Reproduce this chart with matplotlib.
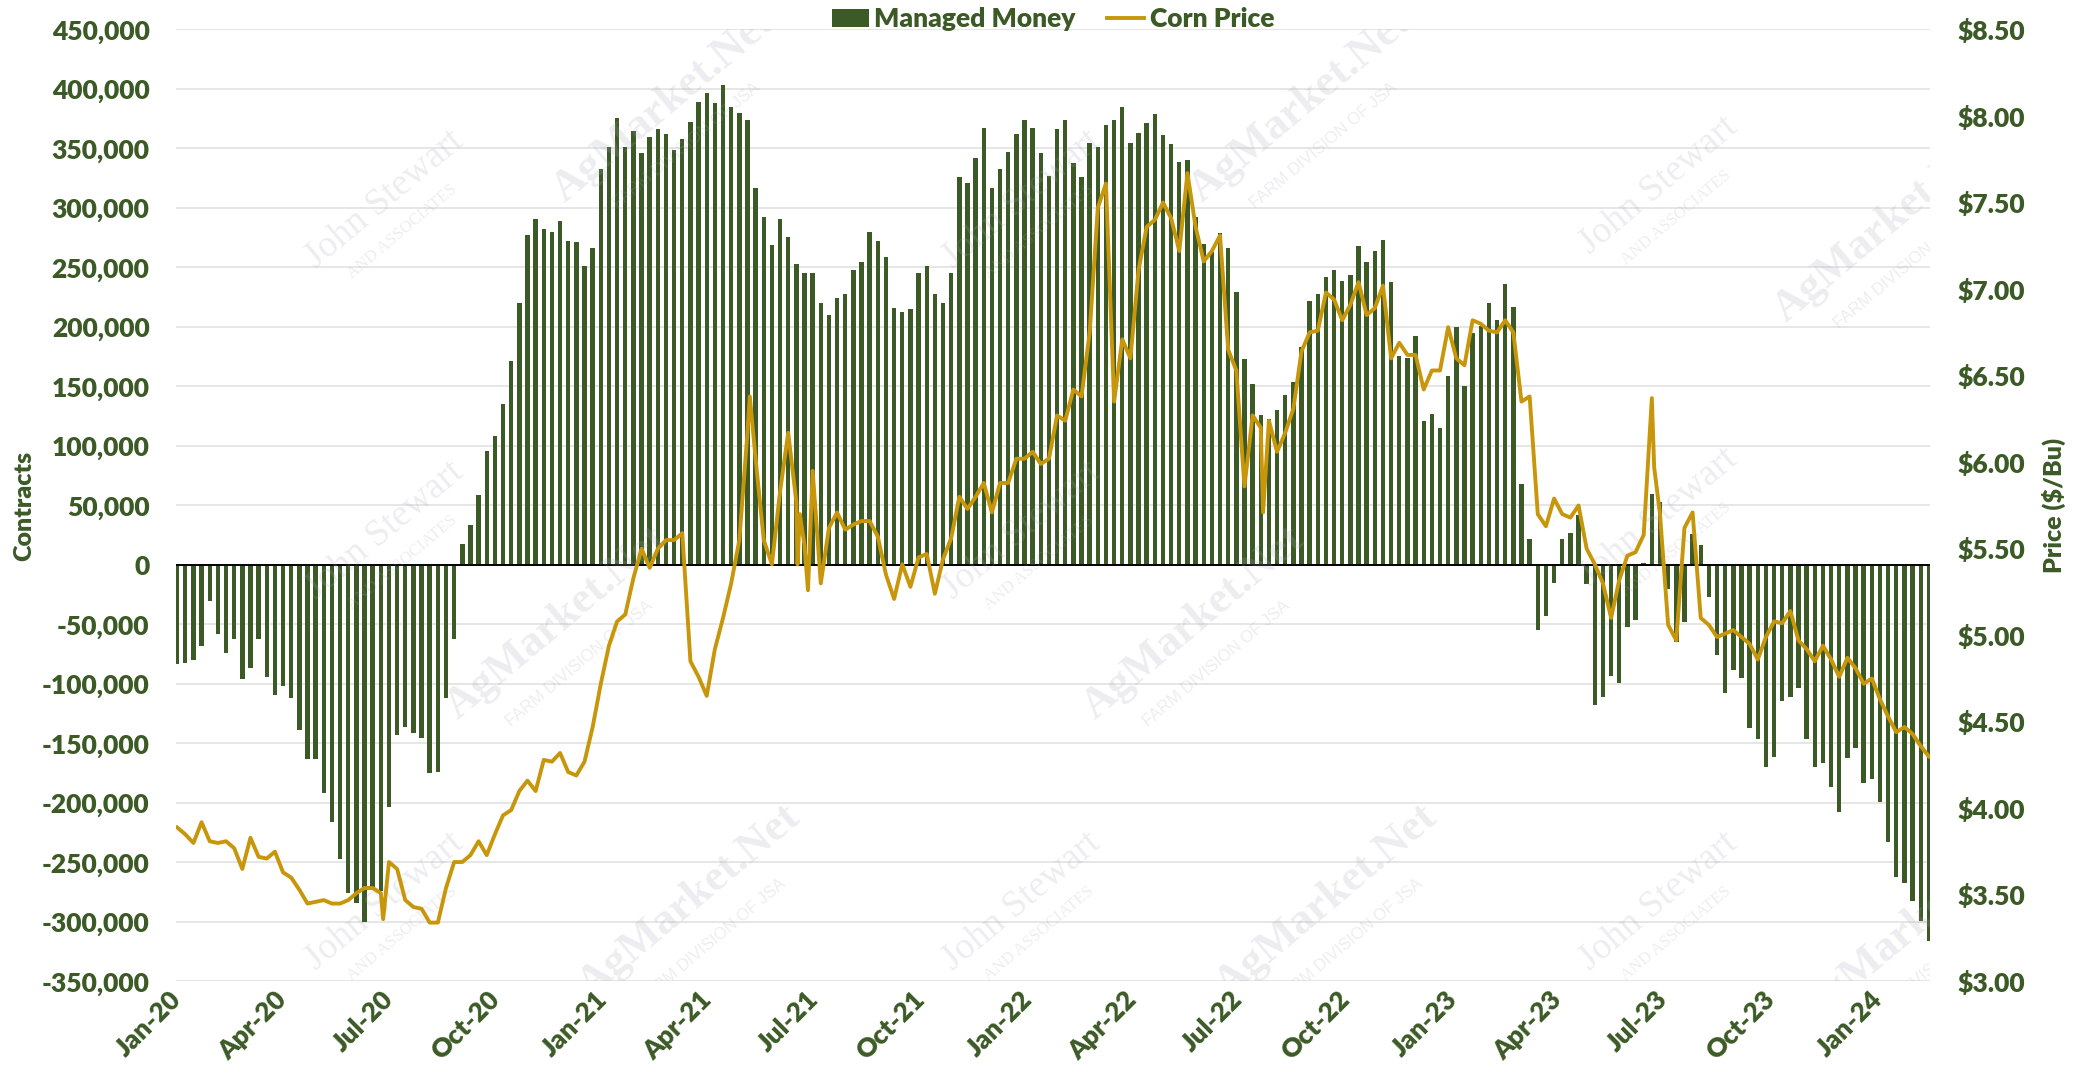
import matplotlib
matplotlib.use('Agg')
import matplotlib.pyplot as plt
from matplotlib.patches import Patch
from matplotlib.lines import Line2D
from matplotlib.ticker import FuncFormatter
import pandas as pd

plt.rcParams['font.family'] = ['Lato', 'DejaVu Sans']

green = '#3b5a26'
gold = '#c8960a'
heavy = 'heavy'

# weekly COT report dates start here (Tuesdays)
first_report = '2020-01-07'

# managed money net position, contracts
managed_money = [
    -83000, -82000, -80000, -68000, -30000, -58000, -74000, -62000, -96000, -87000,
    -62000, -94000, -109000, -102000, -112000, -139000, -163000, -163000, -192000, -216000,
    -247000, -276000, -284000, -300000, -271000, -274000, -203000, -143000, -136000, -141000,
    -145000, -175000, -174000, -112000, -62000, 18000, 34000, 59000, 96000, 108000,
    135000, 171000, 220000, 277000, 291000, 282000, 280000, 289000, 272000, 271000,
    251000, 266000, 333000, 351000, 376000, 351000, 365000, 346000, 360000, 366000,
    362000, 349000, 358000, 372000, 389000, 397000, 388000, 403000, 385000, 380000,
    374000, 317000, 292000, 269000, 291000, 276000, 253000, 245000, 245000, 220000,
    210000, 224000, 228000, 248000, 255000, 280000, 272000, 259000, 216000, 213000,
    215000, 245000, 251000, 228000, 220000, 245000, 326000, 321000, 342000, 367000,
    317000, 333000, 347000, 362000, 374000, 367000, 346000, 327000, 366000, 374000,
    338000, 326000, 355000, 351000, 370000, 374000, 385000, 355000, 363000, 371000,
    379000, 361000, 354000, 339000, 340000, 292000, 270000, 263000, 279000, 266000,
    229000, 173000, 152000, 126000, 123000, 130000, 143000, 154000, 183000, 222000,
    228000, 242000, 248000, 239000, 244000, 268000, 255000, 264000, 273000, 238000,
    176000, 174000, 192000, 121000, 127000, 115000, 159000, 200000, 150000, 195000,
    201000, 220000, 206000, 236000, 217000, 68000, 22000, -55000, -43000, -15000,
    22000, 27000, 42000, -16000, -118000, -111000, -93000, -99000, -52000, -46000,
    2000, 60000, 53000, -20000, -65000, -48000, 26000, 17000, -27000, -76000,
    -108000, -88000, -95000, -137000, -146000, -170000, -161000, -114000, -111000, -103000,
    -146000, -170000, -166000, -187000, -208000, -162000, -154000, -183000, -180000, -199000,
    -233000, -262000, -267000, -282000, -299000, -316000,
]

# corn price ($/bu) on the report dates
corn_price = [
    3.89, 3.85, 3.80, 3.92, 3.81, 3.80, 3.81, 3.77, 3.65, 3.83,
    3.72, 3.71, 3.75, 3.63, 3.60, 3.53, 3.45, 3.46, 3.47, 3.45,
    3.45, 3.47, 3.51, 3.54, 3.54, 3.51, 3.69, 3.65, 3.47, 3.43,
    3.42, 3.34, 3.34, 3.54, 3.69, 3.69, 3.73, 3.81, 3.73, 3.85,
    3.96, 3.99, 4.10, 4.16, 4.10, 4.28, 4.27, 4.32, 4.21, 4.19,
    4.27, 4.47, 4.72, 4.94, 5.08, 5.12, 5.33, 5.50, 5.39, 5.50,
    5.55, 5.55, 5.59, 4.85, 4.76, 4.65, 4.92, 5.10, 5.30, 5.55,
    6.17, 6.02, 5.55, 5.41, 5.83, 6.17, 5.77, 5.52, 5.95, 5.30,
    5.62, 5.71, 5.61, 5.64, 5.66, 5.66, 5.57, 5.35, 5.21, 5.41,
    5.28, 5.45, 5.47, 5.24, 5.44, 5.56, 5.80, 5.73, 5.80, 5.88,
    5.71, 5.88, 5.88, 6.02, 6.02, 6.06, 5.99, 6.02, 6.27, 6.24,
    6.42, 6.38, 6.75, 7.47, 7.61, 6.35, 6.71, 6.60, 7.11, 7.36,
    7.40, 7.50, 7.41, 7.22, 7.67, 7.36, 7.16, 7.22, 7.31, 6.65,
    6.53, 5.86, 6.27, 6.20, 6.24, 6.06, 6.17, 6.31, 6.64, 6.75,
    6.76, 6.98, 6.94, 6.82, 6.91, 7.04, 6.85, 6.89, 7.02, 6.60,
    6.69, 6.62, 6.62, 6.42, 6.53, 6.53, 6.78, 6.60, 6.56, 6.82,
    6.80, 6.76, 6.75, 6.82, 6.75, 6.35, 6.38, 5.70, 5.63, 5.79,
    5.70, 5.68, 5.75, 5.50, 5.41, 5.30, 5.10, 5.32, 5.46, 5.48,
    5.58, 6.37, 5.70, 5.06, 4.97, 5.62, 5.71, 5.10, 5.06, 4.99,
    5.01, 5.03, 4.99, 4.95, 4.86, 4.99, 5.08, 5.07, 5.14, 4.97,
    4.92, 4.85, 4.94, 4.86, 4.76, 4.87, 4.81, 4.72, 4.75, 4.63,
    4.53, 4.44, 4.47, 4.43, 4.36, 4.30,
]

# short-lived spikes between report dates
spike_dates = ['2020-07-02', '2021-05-13', '2021-06-23', '2021-06-25',
               '2021-07-02', '2022-07-28', '2023-06-29']
spike_prices = [3.36, 6.38, 5.41, 5.70, 5.26, 5.71, 5.97]

weeks = pd.date_range(first_report, periods=len(managed_money), freq='7D')
price = pd.concat([pd.Series(corn_price, index=weeks),
                   pd.Series(spike_prices, index=pd.to_datetime(spike_dates))]).sort_index()

fig = plt.figure(figsize=(20.8, 10.84), dpi=100)
ax = fig.add_axes([0.0846, 0.0946, 0.8433, 0.8782])

ax.bar(weeks, managed_money, width=3.8, color=green, zorder=2)
ax.axhline(0, color='black', lw=1.4, zorder=3)

ax.set_ylim(-350000, 450000)
ax.set_yticks(range(-350000, 450001, 50000))
ax.yaxis.set_major_formatter(FuncFormatter(lambda v, p: f'{v:,.0f}'))
ax.set_xlim(weeks[0] - pd.Timedelta(days=1), weeks[-1] + pd.Timedelta(days=1))
ax.grid(axis='y', color='#e6e6e6', lw=1.4)
ax.set_axisbelow(True)

tick_dates = [weeks[0] + pd.DateOffset(months=3 * i) for i in range(17)]
ax.set_xticks(tick_dates)
ax.set_xticklabels([d.strftime('%b-%y') for d in tick_dates], rotation=45,
                   ha='right', va='center', rotation_mode='anchor')

ax2 = ax.twinx()
ax2.plot(price.index, price.values, color=gold, lw=2.8, solid_joinstyle='round', zorder=3)
ax2.set_ylim(3.0, 8.5)
ax2.set_yticks([3.0 + 0.5 * i for i in range(12)])
ax2.yaxis.set_major_formatter(FuncFormatter(lambda v, p: f'${v:.2f}'))

for a in (ax, ax2):
    for s in a.spines.values():
        s.set_visible(False)
ax.tick_params(axis='y', length=0, labelsize=19, labelcolor=green, pad=19)
ax.tick_params(axis='x', length=0, labelsize=19, labelcolor=green, pad=10)
ax2.tick_params(axis='y', length=0, labelsize=19, labelcolor=green, pad=20)
for lab in ax.get_xticklabels() + ax.get_yticklabels() + ax2.get_yticklabels():
    lab.set_fontweight(heavy)

ax.set_ylabel('Contracts', fontsize=18, fontweight=heavy, color=green)
ax.yaxis.set_label_coords(-0.080, 0.5)
ax2.set_ylabel('Price ($/Bu)', fontsize=18, fontweight=heavy, color=green)
ax2.yaxis.set_label_coords(1.064, 0.5)

# faint watermarks
wm = dict(transform=ax2.transAxes, rotation=40, ha='center', va='center',
          color='#a8a8b8', alpha=0.2, clip_on=True, zorder=1)
js_spots = [(0.119, 0.822), (0.482, 0.822), (0.845, 0.836),
            (0.119, 0.474), (0.482, 0.474), (0.845, 0.488),
            (0.119, 0.084), (0.482, 0.084), (0.845, 0.084)]
for x, y in js_spots:
    ax2.text(x, y, 'John Stewart', fontsize=27, family='Liberation Serif', **wm)
    ax2.text(x + 0.010, y - 0.034, 'AND ASSOCIATES', fontsize=12, family='Liberation Serif', **wm)
agm_spots = [(0.278, 0.920), (0.641, 0.920), (0.974, 0.794), (0.217, 0.376),
             (0.580, 0.376), (0.293, 0.084), (0.656, 0.084), (0.989, 0.056)]
for x, y in agm_spots:
    ax2.text(x, y, 'AgMarket.Net', fontsize=32, fontweight='bold', family='Liberation Serif', **wm)
    ax2.text(x + 0.013, y - 0.042, 'FARM DIVISION OF JSA', fontsize=12, family='Liberation Sans', **wm)

handles = [Patch(facecolor=green), Line2D([], [], color=gold, lw=2.8)]
ax.legend(handles, ['Managed Money', 'Corn Price'], loc='center', bbox_to_anchor=(0.5, 1.011),
          ncol=2, frameon=False, prop={'weight': heavy, 'size': 19}, labelcolor=green,
          handlelength=1.4, handletextpad=0.2, columnspacing=1.2, borderaxespad=0)

fig.savefig('out.png', dpi=100)
